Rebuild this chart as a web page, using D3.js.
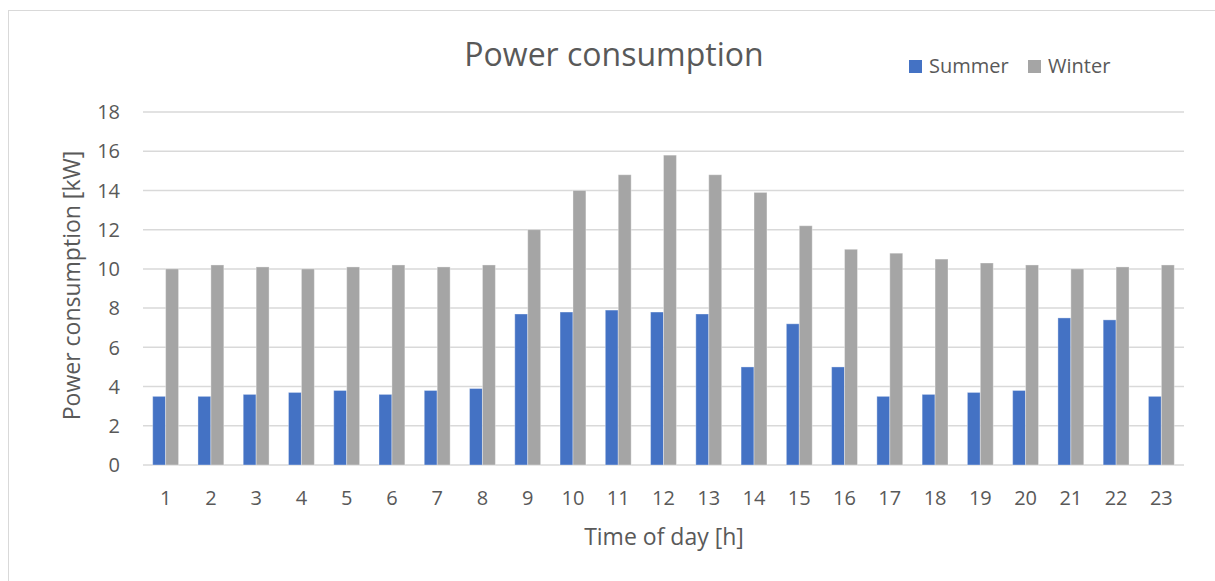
<!DOCTYPE html>
<html>
<head>
<meta charset="utf-8">
<script src="https://cdn.jsdelivr.net/npm/d3@7"></script>
<style>
  body { margin: 0; background: #fff; }
  text { font-family: "Open Sans", "Noto Sans", sans-serif; fill: #595959; }
</style>
</head>
<body>
<div id="chart"></div>
<script>
var width = 1215
var height = 581

// data
const hours = d3.range(1, 24)
const series = ["Summer", "Winter"]
const summer = [3.5, 3.5, 3.6, 3.7, 3.8, 3.6, 3.8, 3.9, 7.7, 7.8, 7.9, 7.8, 7.7, 5.0, 7.2, 5.0, 3.5, 3.6, 3.7, 3.8, 7.5, 7.4, 3.5]
const winter = [10.0, 10.2, 10.1, 10.0, 10.1, 10.2, 10.1, 10.2, 12.0, 14.0, 14.8, 15.8, 14.8, 13.9, 12.2, 11.0, 10.8, 10.5, 10.3, 10.2, 10.0, 10.1, 10.2]
const yTicks = [0, 2, 4, 6, 8, 10, 12, 14, 16, 18]
const colors = ["#4472C4", "#A5A5A5"]

const rows = hours.map((h, i) => ({ hour: h, values: [summer[i], winter[i]] }))

// plot area (note: "top" is taken by window.top, so keep these in an object)
const plot = { left: 143, right: 1184, top: 112, bottom: 465 }

var svg = d3.select("#chart")
    .append("svg")
    .attr("width", width)
    .attr("height", height)

// chart area border (runs off the right and bottom edges)
svg.append("rect")
    .attr("x", 8.5).attr("y", 10.5)
    .attr("width", 1300).attr("height", 700)
    .style("fill", "none")
    .style("stroke", "#D9D9D9")

var x = d3.scaleBand()
    .domain(hours)
    .range([plot.left, plot.right])
    .paddingInner(1.5 / 3.5)
    .paddingOuter(0.75 / 3.5)

var xs = d3.scaleBand()
    .domain(d3.range(series.length))
    .range([0, x.bandwidth()])

var y = d3.scaleLinear()
    .domain([0, 18])
    .range([plot.bottom, plot.top])

// gridlines
svg.append("g")
    .selectAll("line")
    .data(yTicks)
    .enter()
    .append("line")
        .attr("x1", plot.left).attr("x2", plot.right)
        .attr("y1", d => y(d)).attr("y2", d => y(d))
        .style("stroke", "#D9D9D9")
        .style("stroke-width", 1.5)

// y tick labels
svg.append("g")
    .selectAll("text")
    .data(yTicks)
    .enter()
    .append("text")
        .attr("x", 120)
        .attr("y", d => y(d))
        .attr("dy", "0.36em")
        .style("text-anchor", "end")
        .style("font-size", "20px")
        .text(d => d)

// bars
svg.append("g")
    .selectAll("g")
    .data(rows)
    .enter()
    .append("g")
    .attr("transform", d => "translate(" + x(d.hour) + ",0)")
    .selectAll("rect")
    .data(d => d.values)
    .enter()
    .append("rect")
        .attr("x", (d, i) => xs(i))
        .attr("y", d => y(d))
        .attr("width", xs.bandwidth())
        .attr("height", d => y(0) - y(d))
        .style("fill", (d, i) => colors[i])
        .style("stroke", "rgba(255,255,255,.35)")
        .style("stroke-width", 1)

// x tick labels
svg.append("g")
    .selectAll("text")
    .data(hours)
    .enter()
    .append("text")
        .attr("x", d => x(d) + x.bandwidth() / 2)
        .attr("y", 505)
        .style("text-anchor", "middle")
        .style("font-size", "20px")
        .text(d => d)

// axis titles
svg.append("text")
    .attr("x", 664).attr("y", 545)
    .style("text-anchor", "middle")
    .style("font-size", "23px")
    .text("Time of day [h]")

svg.append("text")
    .attr("transform", "translate(80," + ((plot.top + plot.bottom) / 2 - 3) + ") rotate(-90)")
    .style("text-anchor", "middle")
    .style("font-size", "23px")
    .text("Power consumption [kW]")

// title
svg.append("text")
    .attr("x", 614).attr("y", 66)
    .style("text-anchor", "middle")
    .style("font-size", "32px")
    .text("Power consumption")

// legend
var legend = svg.append("g")
    .selectAll("g")
    .data(series)
    .enter()
    .append("g")
    .attr("transform", (d, i) => "translate(" + [909, 1028][i] + ",60)")

legend.append("rect")
    .attr("width", 13).attr("height", 13)
    .style("fill", (d, i) => colors[i])

legend.append("text")
    .attr("x", 20).attr("y", 13)
    .attr("dy", "0.02em")
    .style("font-size", "20px")
    .text(d => d)
</script>
</body>
</html>
